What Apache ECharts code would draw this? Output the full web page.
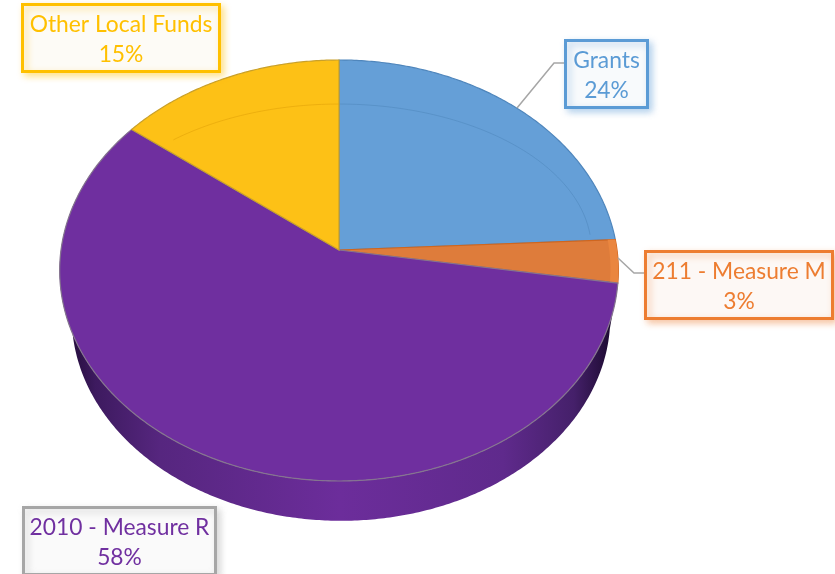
<!DOCTYPE html>
<html><head><meta charset="utf-8">
<style>html,body{margin:0;padding:0;background:#fff}#c{width:835px;height:574px}</style>
<script src="https://cdn.jsdelivr.net/npm/echarts@6/dist/echarts.min.js"></script>
</head><body><div id="c"></div>
<script>
const categories = ['Grants', '211 - Measure M', '2010 - Measure R', 'Other Local Funds'];
const shares = [24.2, 3.3, 58.0, 14.5];
const topColors = ['#659FD7', '#DE7C3B', '#6F2F9F', '#FDC116'];
const rimColors = ['#4F86BC', '#CF661F', '#85758F', '#C9A02A'];
const ringColors = ['#4F86BC', null, null, '#E0A008'];
const textColors = ['#5B9BD5', '#ED7D31', '#7030A0', '#FFC000'];
const boxStrokes = ['#5B9BD5', '#ED7D31', '#A6A6A6', '#FFC000'];
const boxFills = ['#F8FAFC', '#FDF8F5', '#FAFAFA', '#FDFBF6'];
const boxes = [[565.5, 40.5, 82, 67], [645.5, 251.5, 187, 67], [23.5, 507.5, 192, 67], [22.5, 4.5, 197, 67]];
const leaders = [[[517, 108], [554, 63], [565, 63]], [[618, 258], [634, 273], [645, 273]], null, null];
const ringSpans = [[0, 84], null, null, [-41, 0]];

const total = shares.reduce((a, b) => a + b, 0);
let running = 0;
const sliceData = categories.map((name, i) => {
  const start = running / total * 2 * Math.PI;
  running += shares[i];
  return { name, value: [start, running / total * 2 * Math.PI] };
});

const K = -0.0974;
const topDisc = { cx: 339, cy: 250, rx: 278, ry: 208.5 };
const baseDisc = { cx: 341, cy: 297, rx: 268, ry: 202 };
function rim(d, t, r) {
  const s = r === undefined ? 1 : r;
  const X = Math.sin(t) * s, Y = -Math.cos(t) * s, w = 1 + K * Y;
  return [d.cx + d.rx * X / w, d.cy + d.ry * Y / w];
}
function arc(d, a, b, r) {
  const pts = [], n = Math.max(2, Math.ceil(Math.abs(b - a) / 0.01));
  for (let i = 0; i <= n; i++) pts.push(rim(d, a + (b - a) * i / n, r));
  return pts;
}
const wallFill = { type: 'linear', global: true, x: 68, y: 0, x2: 612, y2: 0, colorStops: [
  { offset: 0, color: '#220C38' }, { offset: 0.05, color: '#3D1A5F' }, { offset: 0.17, color: '#56267F' },
  { offset: 0.5, color: '#6C2D9B' }, { offset: 0.8, color: '#5F2A8C' }, { offset: 0.93, color: '#45206A' }, { offset: 1, color: '#1C0A30' }
] };

function renderWall(params, api) {
  const a = api.value(0), b = api.value(1);
  if (!(a < Math.PI && b > Math.PI)) return { type: 'group', children: [] };
  const pts = arc(topDisc, a, b).concat(arc(baseDisc, b, a));
  return { type: 'polygon', shape: { points: pts }, style: { fill: wallFill, stroke: null } };
}
function renderTop(params, api) {
  const i = params.dataIndex, a = api.value(0), b = api.value(1);
  const pts = [[topDisc.cx, topDisc.cy]].concat(arc(topDisc, a, b));
  const children = [{ type: 'polygon', shape: { points: pts }, style: { fill: topColors[i], stroke: rimColors[i], lineWidth: 1.2 } }];
  if (ringSpans[i]) {
    const ring = [];
    for (let p = ringSpans[i][0]; p <= ringSpans[i][1]; p += 1) {
      const t = p * Math.PI / 180;
      ring.push([topDisc.cx + topDisc.rx * 0.908 * Math.sin(t), topDisc.cy - topDisc.ry * 0.7 * Math.cos(t)]);
    }
    children.push({ type: 'polyline', shape: { points: ring }, style: { fill: null, stroke: ringColors[i], opacity: 0.55, lineWidth: 1 } });
  }
  if (i === 1) {
    const sheen = arc(topDisc, a, b).concat(arc(topDisc, b, a, 0.972));
    children.push({ type: 'polygon', shape: { points: sheen }, style: { fill: '#EA863F', stroke: null } });
  }
  return { type: 'group', children };
}

const graphics = [];
categories.forEach((name, i) => {
  if (leaders[i]) graphics.push({ type: 'polyline', z: 5, shape: { points: leaders[i] }, style: { fill: null, stroke: '#A6A6A6', lineWidth: 1.5 } });
  const [x, y, w, h] = boxes[i];
  graphics.push({ type: 'rect', z: 6, shape: { x, y, width: w, height: h },
    style: { fill: boxFills[i], stroke: boxStrokes[i], lineWidth: 3, shadowBlur: 7, shadowOffsetX: 3, shadowOffsetY: 3, shadowColor: boxStrokes[i] + '70' } });
  graphics.push({ type: 'text', z: 7, x: x + w / 2, y: y + h / 2 + 2,
    style: { text: name + '\n' + Math.round(shares[i]) + '%', fill: textColors[i], font: '22.8px Lato', lineHeight: 30, align: 'center', verticalAlign: 'middle' } });
});

const chart = echarts.init(document.getElementById('c'), null, { renderer: 'canvas' });
chart.setOption({
  animation: false,
  backgroundColor: '#fff',
  series: [
    { type: 'custom', coordinateSystem: 'none', z: 1, silent: true, renderItem: renderWall, data: sliceData, encode: { value: [0, 1] } },
    { type: 'custom', coordinateSystem: 'none', z: 2, silent: true, renderItem: renderTop, data: sliceData, encode: { value: [0, 1] } }
  ],
  graphic: { elements: graphics }
});
</script></body></html>
